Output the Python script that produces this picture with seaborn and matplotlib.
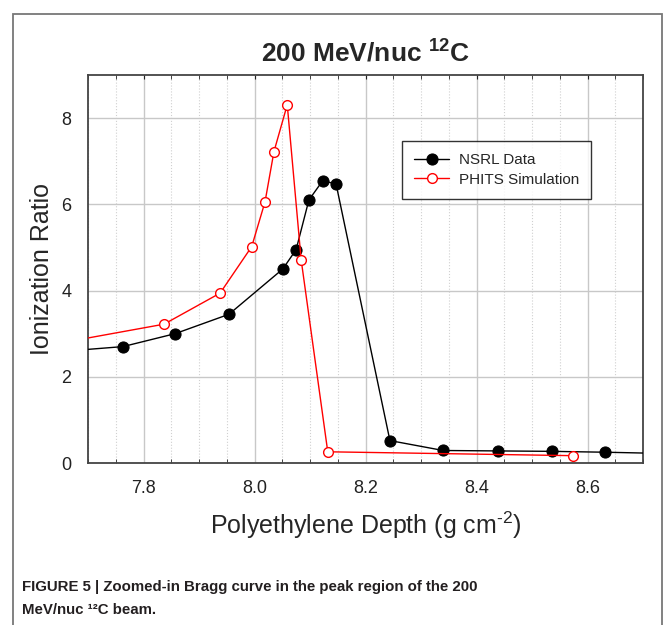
import numpy as np
import pandas as pd
import matplotlib
matplotlib.use('Agg')
import matplotlib.pyplot as plt
import seaborn as sns
from matplotlib.patches import Rectangle
from matplotlib.ticker import MultipleLocator

# values
nsrl_depth = [7.665, 7.763, 7.857, 7.954, 8.051, 8.075, 8.098, 8.123, 8.147,
              8.244, 8.340, 8.439, 8.536, 8.632, 8.740]
nsrl_ratio = [2.60, 2.70, 3.00, 3.45, 4.50, 4.95, 6.10, 6.55, 6.47,
              0.52, 0.29, 0.28, 0.27, 0.25, 0.22]
phits_depth = [7.640, 7.837, 7.938, 7.995, 8.019, 8.035, 8.059, 8.084, 8.132, 8.574]
phits_ratio = [2.76, 3.22, 3.94, 5.02, 6.06, 7.22, 8.31, 4.72, 0.26, 0.17]

sns.set_style('white')
plt.rcParams['font.family'] = ['Liberation Sans', 'DejaVu Sans']
plt.rcParams['mathtext.fontset'] = 'custom'
plt.rcParams['mathtext.rm'] = 'Liberation Sans'
plt.rcParams['mathtext.bf'] = 'Liberation Sans:bold'

nsrl = pd.DataFrame({'depth': nsrl_depth, 'ratio': nsrl_ratio})
phits = pd.DataFrame({'depth': phits_depth, 'ratio': phits_ratio})

fig = plt.figure(figsize=(6.63, 6.25), dpi=100)
ax = fig.add_axes([88 / 663, 162 / 625, 555 / 663, 388 / 625])

sns.lineplot(data=nsrl, x='depth', y='ratio', ax=ax, sort=False, color='black',
             lw=1.0, marker='o', markersize=8, markerfacecolor='black',
             markeredgecolor='black', label='NSRL Data', zorder=3)
sns.lineplot(data=phits, x='depth', y='ratio', ax=ax, sort=False, color='red',
             lw=1.0, marker='o', markersize=7, markerfacecolor='white',
             markeredgecolor='red', markeredgewidth=1.0,
             label='PHITS Simulation', zorder=4)

ax.set_xlim(7.7, 8.7)
ax.set_ylim(0, 9)
ax.xaxis.set_minor_locator(MultipleLocator(0.05))
ax.yaxis.set_major_locator(MultipleLocator(2))
ax.set_xticks([7.8, 8.0, 8.2, 8.4, 8.6])
ax.set_xticklabels(['7.8', '8.0', '8.2', '8.4', '8.6'])

ax.grid(which='major', color='#c8c8c8', lw=1.0, ls='-')
ax.grid(which='minor', axis='x', color='#d0d0d0', lw=0.8, ls=':')
ax.set_axisbelow(True)
for s in ax.spines.values():
    s.set_color('#444444')
    s.set_linewidth(1.3)

ax.tick_params(which='major', direction='in', length=3, labelsize=13,
               top=True, right=False, pad=12, colors='#222222')
ax.tick_params(which='minor', direction='in', length=3, top=True, bottom=True)

ax.set_xlabel('Polyethylene Depth (g cm$^{\u2010 2}$)', fontsize=18, labelpad=9)
ax.set_ylabel('Ionization Ratio', fontsize=18, labelpad=5)
ax.set_title('200 MeV/nuc $^{\\mathbf{12}}$C', fontsize=19, fontweight='bold', pad=10)

leg = ax.legend(loc='upper left', bbox_to_anchor=(314 / 555, 322 / 388),
                borderaxespad=0, fontsize=11, frameon=True, fancybox=False,
                borderpad=0.8, handlelength=2.3, handletextpad=0.6,
                labelspacing=0.35)
leg.get_frame().set_edgecolor('black')
leg.get_frame().set_linewidth(1.0)

# outer page frame
fig.patches.append(Rectangle((12.5 / 663, -0.1), 649 / 663, 1.1 - 13.5 / 625,
                             transform=fig.transFigure, fill=False,
                             edgecolor='#777777', lw=1.3))

fig.text(22 / 663, 1 - 587 / 625,
         'FIGURE 5 | Zoomed-in Bragg curve in the peak region of the 200',
         fontsize=10.8, fontweight='bold', color='#231f20', va='center')
fig.text(22 / 663, 1 - 610 / 625, 'MeV/nuc \u00b9\u00b2C beam.',
         fontsize=10.8, fontweight='bold', color='#231f20', va='center')

fig.savefig('out.png', dpi=100)
